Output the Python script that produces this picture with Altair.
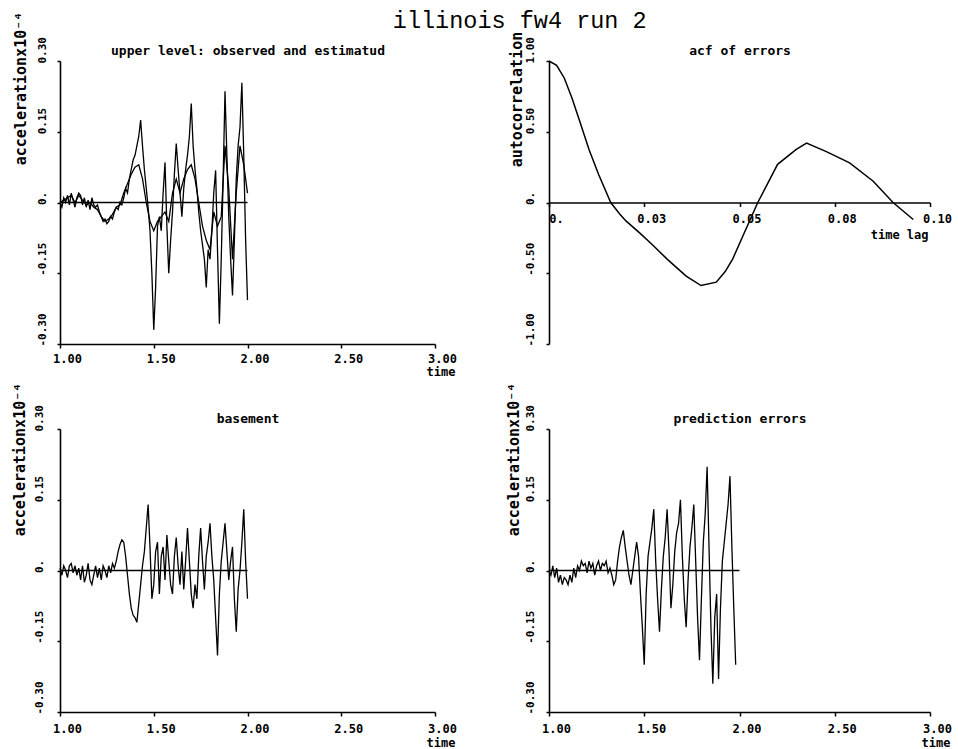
import altair as alt
import pandas as pd

# ---------------- text ----------------
main_title = "illinois fw4 run 2"
title_upper = "upper level: observed and estimatud"
title_acf = "acf of errors"
title_base = "basement"
title_pred = "prediction errors"
accel_label = "accelerationx10⁻⁴"
acf_label = "autocorrelation"
time_label = "time"
lag_label = "time lag"

# ---------------- ticks ----------------
accel_ticks = [-0.30, -0.15, 0.0, 0.15, 0.30]
accel_tick_text = ["-0.30", "-0.15", "0.", "0.15", "0.30"]
time_ticks = [1.0, 1.5, 2.0, 2.5, 3.0]
time_tick_text = ["1.00", "1.50", "2.00", "2.50", "3.00"]
acf_ticks = [-1.0, -0.5, 0.0, 0.5, 1.0]
acf_tick_text = ["-1.00", "-0.50", "0.", "0.50", "1.00"]
lag_ticks = [0.0, 0.025, 0.05, 0.075, 0.10]
lag_tick_text = ["0.", "0.03", "0.05", "0.08", "0.10"]

# ---------------- data ----------------
upper_observed = [
    0.0, -0.01, 0.01, 0.0, 0.015, -0.005, 0.02, 0.005, -0.01, 0.01,
    0.02, 0.015, -0.005, 0.01, -0.01, 0.005, -0.015, 0.01, -0.005, -0.01,
    -0.005, -0.02, -0.03, -0.04, -0.035, -0.045, -0.04, -0.03, -0.035, -0.02,
    -0.01, -0.015, 0.0, -0.005, 0.01, 0.03, 0.02, 0.05, 0.07, 0.09,
    0.10, 0.12, 0.14, 0.175, 0.12, 0.07, 0.03, -0.01, -0.06, -0.15,
    -0.27, -0.18, -0.05, -0.03, -0.06, 0.02, 0.085, -0.05, -0.15, -0.08,
    -0.02, 0.06, 0.125, 0.07, 0.02, -0.03, 0.03, 0.07, 0.10, 0.14,
    0.21, 0.12, 0.07, 0.03, -0.02, -0.06, -0.09, -0.12, -0.18, -0.10,
    -0.12, -0.06, 0.02, 0.068, -0.10, -0.257, -0.12, 0.05, 0.236, 0.10,
    -0.03, -0.12, -0.197, -0.08, 0.05, 0.12, 0.16, 0.254, 0.10, -0.08,
    -0.207,
]
upper_estimated = [
    0.0, 0.005, 0.01, 0.015, 0.0, 0.015, 0.005, -0.005, 0.0, -0.01,
    -0.015, -0.03, -0.04, -0.035, -0.025, -0.01, -0.005, 0.02, 0.04, 0.06,
    0.075, 0.08, 0.05, 0.0, -0.04, -0.06, -0.04, -0.03, -0.02, -0.04,
    0.02, 0.05, 0.02, 0.05, 0.07, 0.08, 0.05, 0.0, -0.05, -0.08,
    -0.10, -0.02, -0.05, -0.03, 0.12, 0.03, -0.12, 0.02, 0.12, 0.08,
    0.02,
]
basement = [
    0.005, -0.01, 0.01, 0.0, -0.015, 0.01, 0.015, -0.005, 0.01, -0.01,
    0.005, -0.02, 0.01, -0.025, -0.01, 0.015, -0.02, -0.03, -0.01, 0.01,
    -0.015, 0.005, -0.02, 0.01, 0.0, -0.015, 0.01, -0.005, 0.015, 0.005,
    0.02, 0.04, 0.055, 0.065, 0.06, 0.03, -0.01, -0.05, -0.08, -0.095,
    -0.10, -0.11, -0.07, -0.03, 0.01, 0.04, 0.09, 0.14, 0.05, -0.06,
    -0.03, 0.04, 0.06, -0.05, 0.03, 0.05, -0.02, 0.075, 0.02, -0.03,
    -0.05, 0.03, 0.07, 0.01, -0.03, 0.04, -0.04, 0.02, 0.09, 0.02,
    -0.05, -0.08, -0.03, -0.06, 0.03, 0.09, 0.02, -0.04, 0.03, 0.06,
    0.10, 0.03, -0.02, -0.10, -0.18, -0.05, 0.02, 0.06, 0.10, 0.04,
    -0.02, 0.02, 0.05, -0.06, -0.13, -0.04, 0.0, 0.06, 0.13, 0.02,
    -0.06,
]
prediction_errors = [
    0.0, -0.01, 0.01, -0.015, 0.005, -0.025, -0.01, -0.03, -0.015, -0.02,
    -0.03, -0.01, -0.025, 0.005, -0.015, 0.01, 0.0, 0.02, 0.01, 0.015,
    -0.005, 0.02, 0.005, 0.015, -0.01, 0.01, 0.02, 0.0, 0.015, 0.01,
    0.02, -0.005, 0.005, -0.01, -0.03, -0.02, 0.02, 0.05, 0.07, 0.085,
    0.05, 0.02, -0.01, -0.03, 0.0, 0.03, 0.06, 0.03, -0.05, -0.12,
    -0.20, -0.05, 0.03, 0.06, 0.09, 0.13, 0.02, -0.06, -0.13, -0.04,
    0.03, 0.07, 0.13, 0.04, -0.08, -0.03, 0.04, 0.08, 0.10, 0.15,
    0.03, -0.06, -0.12, -0.02, 0.05, 0.09, 0.14, 0.02, -0.10, -0.19,
    -0.06, 0.06, 0.12, 0.22, 0.05, -0.12, -0.24, -0.10, -0.05, -0.23,
    -0.08, 0.02, 0.06, 0.10, 0.14, 0.20, 0.05, -0.08, -0.20,
]
acf_lag = [0.0, 0.002, 0.004, 0.006, 0.008, 0.0105, 0.013, 0.0162, 0.0185, 0.0202,
           0.024, 0.0272, 0.031, 0.036, 0.0399, 0.0439, 0.0462, 0.0482, 0.0515, 0.0548,
           0.060, 0.0649, 0.0676, 0.0728, 0.0789, 0.0851, 0.0903, 0.0956]
acf_value = [1.0, 0.97, 0.88, 0.74, 0.58, 0.375, 0.20, 0.0, -0.08, -0.13,
             -0.22, -0.30, -0.40, -0.52, -0.587, -0.563, -0.49, -0.40, -0.20, 0.0,
             0.27, 0.375, 0.42, 0.36, 0.28, 0.15, 0.0, -0.12]
zero_t = [1.0, 2.0]
zero_v = [0.0, 0.0]


def grid(start, step, n):
    return [round(start + step * i, 3) for i in range(n)]


upper_df = pd.concat([
    pd.DataFrame({"t": grid(1.0, 0.01, len(upper_observed)), "v": upper_observed, "series": "observed"}),
    pd.DataFrame({"t": grid(1.0, 0.02, len(upper_estimated)), "v": upper_estimated, "series": "estimated"}),
])
base_df = pd.DataFrame({"t": grid(1.0, 0.01, len(basement)), "v": basement, "series": "basement"})
pred_df = pd.DataFrame({"t": grid(1.0, 0.01, len(prediction_errors)), "v": prediction_errors, "series": "errors"})
acf_df = pd.DataFrame({"t": acf_lag, "v": acf_value})
zero_df = pd.DataFrame({"t": zero_t, "v": zero_v})

FONT = "DejaVu Sans Mono"
BLACK = "#000000"
H = 283
W_LEFT = 375
W_RIGHT = 381


def lbl_expr(vals, texts):
    expr = "''"
    for v, s in zip(vals, texts):
        expr = f"abs(datum.value - ({v})) < 1e-6 ? '{s}' : ({expr})"
    return expr


def x_axis(vals, texts, title, title_x, title_y, offset=0, pad=4):
    return alt.Axis(
        orient="bottom", values=vals, labelExpr=lbl_expr(vals, texts),
        title=title, titleX=title_x, titleY=title_y, titleAlign="right", titleBaseline="middle",
        titleFont=FONT, titleFontSize=12, titleFontWeight="bold", titleColor=BLACK,
        labelFont=FONT, labelFontSize=12, labelFontWeight="bold", labelColor=BLACK,
        labelAngle=0, labelAlign="center", labelBaseline="top", labelOffset=7, labelPadding=pad,
        labelOverlap=False, labelFlush=False,
        ticks=True, tickSize=4, tickWidth=1.5, tickColor=BLACK,
        domain=True, domainWidth=1.6, domainColor=BLACK, grid=False, offset=offset,
    )


def y_axis(vals, texts, title, title_x, title_y, lab_pad):
    return alt.Axis(
        orient="left", values=vals, labelExpr=lbl_expr(vals, texts),
        title=title, titleAngle=270, titleX=title_x, titleY=title_y,
        titleAlign="center", titleBaseline="middle",
        titleFont=FONT, titleFontSize=15, titleFontWeight="bold", titleColor=BLACK,
        labelFont=FONT, labelFontSize=11, labelFontWeight="bold", labelColor=BLACK,
        labelAngle=270, labelAlign="left", labelBaseline="middle", labelOffset=2,
        labelPadding=lab_pad, labelOverlap=False, labelFlush=False,
        ticks=True, tickSize=3, tickWidth=1.5, tickColor=BLACK,
        domain=True, domainWidth=1.6, domainColor=BLACK, grid=False,
    )


def top_axis(title, width):
    return alt.Axis(
        orient="top", title=title, labels=False, ticks=False, domain=False, grid=False,
        titleX=width / 2, titleY=-11, titleAlign="center", titleBaseline="middle",
        titleFont=FONT, titleFontSize=13, titleFontWeight="bold", titleColor=BLACK,
    )


def accel_panel(df, title, width, ytx, yty, lab_pad, ttx, lpad, tty):
    xs = alt.Scale(domain=[1.0, 3.0], nice=False, zero=False)
    ys = alt.Scale(domain=[-0.30, 0.30], nice=False, zero=False)
    yax = y_axis(accel_ticks, accel_tick_text, accel_label, ytx, yty, lab_pad)
    zero = alt.Chart(zero_df).mark_line(color=BLACK, strokeWidth=1.5).encode(
        x=alt.X("t:Q", scale=xs, axis=top_axis(title, width)),
        y=alt.Y("v:Q", scale=ys, axis=yax),
    )
    line = alt.Chart(df).mark_line(color=BLACK, strokeWidth=1.3).encode(
        x=alt.X("t:Q", scale=xs,
                axis=x_axis(time_ticks, time_tick_text, time_label, ttx, tty, pad=lpad)),
        y=alt.Y("v:Q", scale=ys, axis=yax),
        detail="series:N",
    )
    return alt.layer(zero, line).resolve_axis(x="independent").properties(width=width, height=H)


def acf_panel(width):
    xs = alt.Scale(domain=[0.0, 0.10], nice=False, zero=False)
    ys = alt.Scale(domain=[-1.0, 1.0], nice=False, zero=False)
    yax = y_axis(acf_ticks, acf_tick_text, acf_label, -33, 38, 16)
    ghost = alt.Chart(acf_df).mark_line(color=BLACK, strokeOpacity=0).encode(
        x=alt.X("t:Q", scale=xs, axis=top_axis(title_acf, width)),
        y=alt.Y("v:Q", scale=ys, axis=yax),
    )
    line = alt.Chart(acf_df).mark_line(color=BLACK, strokeWidth=1.5).encode(
        x=alt.X("t:Q", scale=xs,
                axis=x_axis(lag_ticks, lag_tick_text, lag_label, 379, 32, offset=-H / 2, pad=7)),
        y=alt.Y("v:Q", scale=ys, axis=yax),
    )
    return alt.layer(ghost, line).resolve_axis(x="independent").properties(width=width, height=H)


p_upper = accel_panel(upper_df, title_upper, W_LEFT, -40, 27, 15, 395, 5, 27)
p_acf = acf_panel(W_RIGHT)
p_base = accel_panel(base_df, title_base, W_LEFT, -41, 30, 18, 395, 7, 30)
p_pred = accel_panel(pred_df, title_pred, W_RIGHT, -36, 30, 16, 401, 7, 30)

chart = alt.concat(
    p_upper, p_acf, p_base, p_pred,
    columns=2,
    spacing={"row": 85, "column": 114},
    bounds="flush",
    title=alt.TitleParams(
        text=main_title, font="Liberation Mono", fontSize=23.5, fontWeight="normal",
        color=BLACK, anchor="middle", dx=38, offset=-21,
    ),
).properties(
    padding={"left": 11, "top": 8, "right": 5, "bottom": 5},
    background="white",
).configure_view(strokeWidth=0)

chart.save("out.html", embed_options={"renderer": "svg", "actions": False})
